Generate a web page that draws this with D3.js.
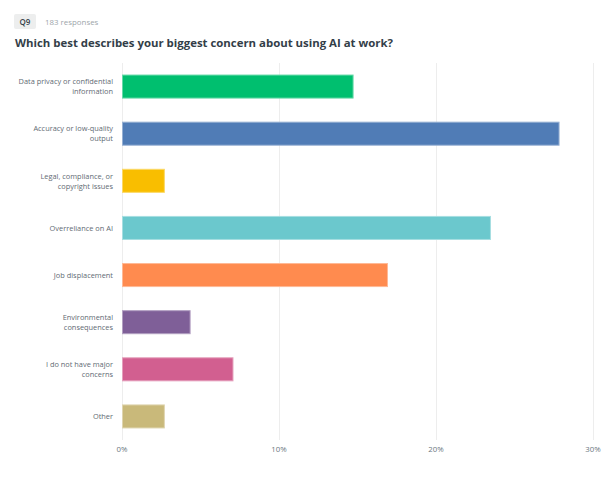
<!DOCTYPE html>
<html>
<head>
<meta charset="utf-8">
<script src="https://cdn.jsdelivr.net/npm/d3@7"></script>
<style>
body{margin:0;background:#fff;font-family:"Open Sans",Roboto,sans-serif;}
.grid line{stroke:#ededed;stroke-width:1;}
.cat{fill:#5f6b74;font-size:7.4px;font-weight:500;}
.tick-x{fill:#6b7780;font-size:7.8px;}
</style>
</head>
<body>
<div id="plot"></div>
<script>
//Chart data
var categories = ['Data privacy or confidential information','Accuracy or low-quality output','Legal, compliance, or copyright issues','Overreliance on AI','Job displacement','Environmental consequences','I do not have major concerns','Other'];
var labelLines = [['Data privacy or confidential','information'],['Accuracy or low-quality','output'],['Legal, compliance, or','copyright issues'],['Overreliance on AI'],['Job displacement'],['Environmental','consequences'],['I do not have major','concerns'],['Other']];
var percents = [14.75,27.87,2.73,23.50,16.94,4.37,7.10,2.73];
var colors = ['#00bf6f','#507cb6','#f9be00','#6bc8cd','#ff8b4f','#7f5f98','#d25f90','#c9b97a'];
var strokes = ['#66d9a9','#96b0d3','#fbd866','#a6dee1','#ffb995','#b29fc1','#e49fbc','#dfd5af'];
var tickValues = [0,10,20,30];

var W = 614, H = 481;
var m = {t:63,l:122,r:21,b:41};

var svg = d3.select('#plot').append('svg')
	.attr('width',W)
	.attr('height',H);

//Header
svg.append('rect')
	.attr('x',14).attr('y',14).attr('width',22).attr('height',15).attr('rx',2)
	.attr('fill','#edeeee');
svg.append('text')
	.attr('x',25).attr('y',24.5)
	.attr('text-anchor','middle')
	.attr('font-size','8px').attr('font-weight',600).attr('fill','#333e48')
	.text('Q9');
svg.append('text')
	.attr('x',45).attr('y',24.5)
	.attr('font-size','7.9px').attr('fill','#9da5aa')
	.text('183 responses');
svg.append('text')
	.attr('x',15).attr('y',46.5)
	.attr('font-size','11.4px').attr('font-weight',700).attr('fill','#333e48')
	.text('Which best describes your biggest concern about using AI at work?');

var scaleX = d3.scaleLinear().domain([0,30]).range([m.l,W-m.r]),
	scaleY = d3.scaleBand().domain(categories).range([m.t,H-m.b]).paddingInner(0.49).paddingOuter(0.245);

//Gridlines
svg.append('g').attr('class','grid')
	.selectAll('line')
	.data(tickValues)
	.enter()
	.append('line')
	.attr('x1',function(d){return Math.round(scaleX(d))+0.5})
	.attr('x2',function(d){return Math.round(scaleX(d))+0.5})
	.attr('y1',m.t)
	.attr('y2',H-m.b);

//Bars
svg.selectAll('.bar')
	.data(categories)
	.enter()
	.append('rect').attr('class','bar')
	.attr('x',scaleX(0)+0.5)
	.attr('y',function(d){return scaleY(d)+0.5})
	.attr('width',function(d,i){return scaleX(percents[i])-scaleX(0)-1})
	.attr('height',scaleY.bandwidth()-1)
	.attr('fill',function(d,i){return colors[i]})
	.attr('stroke',function(d,i){return strokes[i]})
	.attr('stroke-width',1);

//Category labels
svg.selectAll('.cat')
	.data(categories)
	.enter()
	.append('text').attr('class','cat')
	.attr('text-anchor','end')
	.attr('x',113)
	.attr('y',function(d,i){
		var cy = scaleY(d)+scaleY.bandwidth()/2;
		return cy - (labelLines[i].length-1)*5 + 2.7;
	})
	.each(function(d,i){
		var t = d3.select(this);
		labelLines[i].forEach(function(line,j){
			t.append('tspan').attr('x',113).attr('dy',j===0?0:10).text(line);
		});
	});

//X axis labels
svg.selectAll('.tick-x')
	.data(tickValues)
	.enter()
	.append('text').attr('class','tick-x')
	.attr('text-anchor','middle')
	.attr('x',function(d){return scaleX(d)})
	.attr('y',H-m.b+11.5)
	.text(function(d){return d+'%'});
</script>
</body>
</html>
